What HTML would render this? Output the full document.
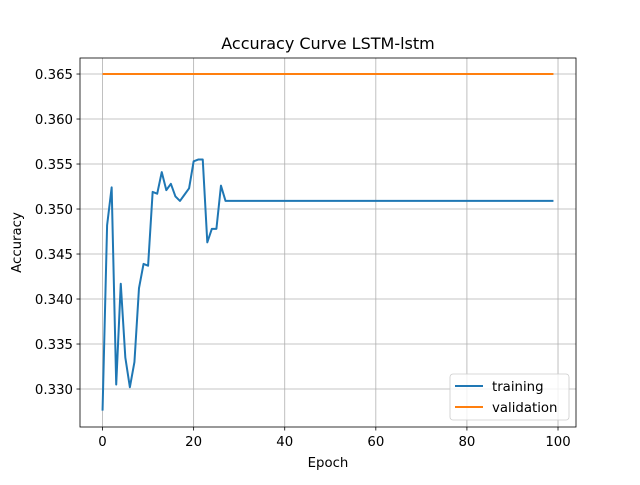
<!DOCTYPE html>
<html><head><meta charset="utf-8"><style>body{margin:0;background:#fff}svg text{font-family:"DejaVu Sans","Liberation Sans",sans-serif}</style></head>
<body>
<svg id="c" width="640" height="480" xmlns="http://www.w3.org/2000/svg"></svg>
<script>
const xTicks=[0,20,40,60,80,100];
const yTicks=[0.330,0.335,0.340,0.345,0.350,0.355,0.360,0.365];
const trainingHead=[0.3276,0.3482,0.3524,0.3305,0.3417,0.3335,0.3302,0.3330,0.3412,0.3439,0.3437,0.3519,0.3517,0.3541,0.3521,0.3528,0.3514,0.3509,0.3516,0.3523,0.3553,0.3555,0.3555,0.3463,0.3478,0.3478,0.3526,0.3509];
const trainingPlateau=0.3509;
const validationValue=0.365;
const nEpochs=100;
const training=[];for(let i=0;i<nEpochs;i++)training.push(i<trainingHead.length?trainingHead[i]:trainingPlateau);
const validation=[];for(let i=0;i<nEpochs;i++)validation.push(validationValue);
const L=80,R=576,T=58,B=427;
const xmin=-4.95,xmax=103.95,ymin=0.32578,ymax=0.36678;
const X=v=>L+(v-xmin)/(xmax-xmin)*(R-L);
const Y=v=>B-(v-ymin)/(ymax-ymin)*(B-T);
const svg=document.getElementById('c');
const NS='http://www.w3.org/2000/svg';
function mk(t,a,p){const e=document.createElementNS(NS,t);for(const k in a)e.setAttribute(k,a[k]);(p||svg).appendChild(e);return e;}
xTicks.forEach(v=>{
 const g=mk('line',{x1:X(v),x2:X(v),y1:T,y2:B,stroke:'#b0b0b0','stroke-width':0.8});
 
 
 mk('line',{x1:X(v),x2:X(v),y1:B,y2:B+3.5,stroke:'#000','stroke-width':0.8});
 const t=mk('text',{x:X(v),y:B+19,'text-anchor':'middle','font-size':13.3});t.textContent=v;
 
 
});
yTicks.forEach(v=>{
 const g=mk('line',{x1:L,x2:R,y1:Y(v),y2:Y(v),stroke:'#b0b0b0','stroke-width':0.8});
 
 
 mk('line',{x1:L-3.5,x2:L,y1:Y(v),y2:Y(v),stroke:'#000','stroke-width':0.8});
 const t=mk('text',{x:L-7,y:Y(v)+5,'text-anchor':'end','font-size':13.3});t.textContent=v.toFixed(3);
 
 
});
function line(arr,color,name){
 const p=mk('polyline',{points:arr.map((v,i)=>X(i)+','+Y(v)).join(' '),fill:'none',stroke:color,'stroke-width':2,'stroke-linejoin':'round'});
 
 
}
line(training,'#1f77b4','training-line');
line(validation,'#ff7f0e','validation-line');
const fr=mk('rect',{x:L,y:T,width:R-L,height:B-T,fill:'none',stroke:'#000','stroke-width':0.8});


const ti=mk('text',{x:(L+R)/2,y:49,'text-anchor':'middle','font-size':16});ti.textContent='Accuracy Curve LSTM-lstm';


const xl=mk('text',{x:(L+R)/2,y:467,'text-anchor':'middle','font-size':13.3});xl.textContent='Epoch';


const yl=mk('text',{x:21,y:(T+B)/2,'text-anchor':'middle','font-size':13.3,transform:'rotate(-90 21 '+((T+B)/2)+')'});yl.textContent='Accuracy';


const lg=mk('g',{});


mk('rect',{x:450,y:374,width:119,height:46,rx:3,fill:'#fff','fill-opacity':0.8,stroke:'#ccc','stroke-width':0.8},lg);
[['training','#1f77b4',391],['validation','#ff7f0e',412]].forEach(([n,c,y])=>{
 mk('line',{x1:455,x2:483,y1:y-5,y2:y-5,stroke:c,'stroke-width':2},lg);
 const t=mk('text',{x:492,y:y,'font-size':13.3},lg);t.textContent=n;
 
 
});
</script>
</body></html>
